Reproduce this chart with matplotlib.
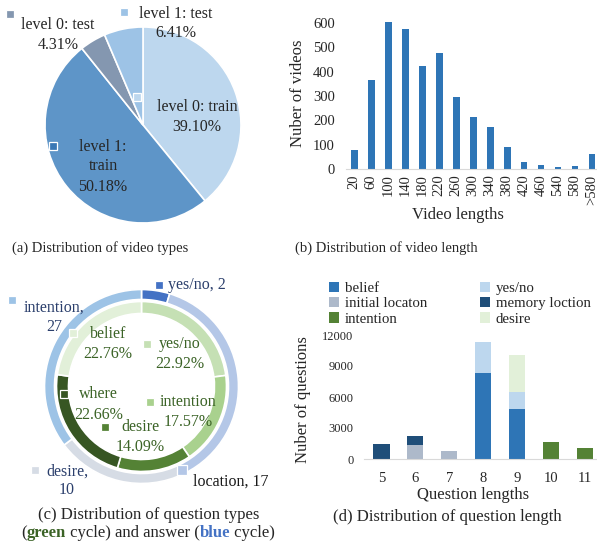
import matplotlib
matplotlib.use('Agg')
import matplotlib.pyplot as plt
import numpy as np

plt.rcParams['font.family'] = ['Liberation Serif', 'DejaVu Serif']

W, H = 597, 544

# (a) video types
type_labels = ['level 0: train\n39.10%', 'level 1:\ntrain\n50.18%', 'level 0: test\n4.31%', 'level 1: test\n6.41%']
type_share = [39.10, 50.18, 4.31, 6.41]

# (b) video lengths
length_bins = ['20', '60', '100', '140', '180', '220', '260', '300', '340', '380',
               '420', '460', '540', '580', '>580']
video_counts = [80, 365, 605, 575, 425, 478, 295, 212, 172, 92, 30, 18, 10, 13, 60]

# (c) question types (inner ring) and answers (outer ring)
question_types = ['yes/no', 'intention', 'desire', 'where', 'belief']
question_share = [22.92, 17.57, 14.09, 22.66, 22.76]
answer_types = ['yes/no', 'location', 'desire', 'intention']
answer_counts = [2, 17, 10, 27]
answer_share = [4.7, 38.0, 22.0, 35.3]   # ring sizes as drawn in the figure

# (d) question lengths, stacked by type
q_lengths = ['5', '6', '7', '8', '9', '10', '11']
belief = [0, 0, 0, 8350, 4870, 0, 0]
yes_no = [0, 0, 0, 3000, 1620, 0, 0]
initial_loc = [0, 1350, 780, 0, 0, 0, 0]
memory_loc = [1450, 880, 0, 0, 0, 0, 0]
intention = [0, 0, 0, 0, 0, 1680, 1100]
desire = [0, 0, 0, 0, 3580, 0, 0]

TXT = '#262626'
GREEN_TXT = '#3B6326'
NAVY_TXT = '#2B3F6C'


def px_box(l, t, r, b):
    # pixel box (top-left origin) -> figure fraction rect
    return [l / W, 1 - b / H, (r - l) / W, (b - t) / H]


fig = plt.figure(figsize=(W / 100, H / 100), dpi=100)
fig.patch.set_facecolor('white')

# ---------------- (a) pie ----------------
ax_a = fig.add_axes(px_box(45, 27, 241, 223))
type_colors = ['#BDD7EE', '#5E95C8', '#8497B0', '#9DC3E6']
ax_a.pie(type_share, colors=type_colors, startangle=90, counterclock=False,
         wedgeprops=dict(edgecolor='white', linewidth=1.2))
ax_a.set_xlim(-1, 1)
ax_a.set_ylim(-1, 1)

# ---------------- (b) bars ----------------
ax_b = fig.add_axes(px_box(345.8, 11, 600.5, 169))
xb = np.arange(len(video_counts))
ax_b.bar(xb, video_counts, width=0.4, color='#2E75B6')
ax_b.set_xlim(-0.5, len(xb) - 0.5)
ax_b.set_ylim(0, 650)
ax_b.set_yticks(range(0, 700, 100))
ax_b.set_xticks(xb, length_bins, rotation=90)
ax_b.tick_params(axis='both', length=0, labelsize=10.5, colors=TXT)
ax_b.tick_params(axis='x', pad=4)
ax_b.tick_params(axis='y', pad=8)
for s in ['top', 'right', 'left']:
    ax_b.spines[s].set_visible(False)
ax_b.spines['bottom'].set_color('#D9D9D9')
ax_b.set_ylabel('Nuber of videos', fontsize=12, color=TXT)
ax_b.yaxis.label.set_va('center')
ax_b.yaxis.set_label_coords(298 / W, 1 - 93 / H, transform=fig.transFigure)
ax_b.set_xlabel('Video lengths', fontsize=12, color=TXT)
ax_b.xaxis.label.set_va('center')
ax_b.xaxis.set_label_coords(458 / W, 1 - 215 / H, transform=fig.transFigure)

# ---------------- (c) donut ----------------
ax_c = fig.add_axes(px_box(44.5, 289.5, 238.5, 483.5))
R = 97.0
outer_colors = ['#4472C4', '#B4C7E7', '#D6DCE5', '#9DC3E6']
inner_colors = ['#C5E0B4', '#A9D18E', '#548235', '#375623', '#E2F0D9']
ax_c.pie(answer_share, colors=outer_colors, startangle=90, counterclock=False, radius=1,
         wedgeprops=dict(width=10 / R, edgecolor='white', linewidth=1.2))
ax_c.pie(question_share, colors=inner_colors, startangle=90, counterclock=False, radius=85 / R,
         wedgeprops=dict(width=12 / R, edgecolor='white', linewidth=1.2))
ax_c.set_xlim(-1, 1)
ax_c.set_ylim(-1, 1)

# ---------------- (d) stacked bars ----------------
ax_d = fig.add_axes(px_box(364.4, 335, 602, 459))
xd = np.arange(len(q_lengths))
series = [('belief', belief, '#2E75B6'),
          ('yes/no', yes_no, '#BDD7EE'),
          ('initial locaton', initial_loc, '#ADB9CA'),
          ('memory loction', memory_loc, '#1F4E79'),
          ('intention', intention, '#548235'),
          ('desire', desire, '#E2F0D9')]
bottom = np.zeros(len(q_lengths))
handles = {}
for name, vals, col in series:
    bc = ax_d.bar(xd, vals, width=0.48, bottom=bottom, color=col, label=name)
    handles[name] = bc
    bottom += np.array(vals)
ax_d.set_xlim(-0.5, len(xd) - 0.5)
ax_d.set_ylim(0, 12000)
ax_d.set_yticks(range(0, 12001, 3000))
ax_d.set_xticks(xd, q_lengths)
ax_d.tick_params(axis='both', length=0, colors=TXT)
ax_d.tick_params(axis='x', labelsize=10.5, pad=9)
ax_d.tick_params(axis='y', labelsize=9, pad=8)
for s in ['top', 'right', 'left']:
    ax_d.spines[s].set_visible(False)
ax_d.spines['bottom'].set_color('#D9D9D9')
ax_d.set_ylabel('Nuber of questions', fontsize=12, color=TXT)
ax_d.yaxis.label.set_va('center')
ax_d.yaxis.set_label_coords(303 / W, 1 - 400 / H, transform=fig.transFigure)
ax_d.set_xlabel('Question lengths', fontsize=12, color=TXT)
ax_d.xaxis.label.set_va('center')
ax_d.xaxis.set_label_coords(473 / W, 1 - 495 / H, transform=fig.transFigure)
order = ['belief', 'initial locaton', 'intention', 'yes/no', 'memory loction', 'desire']
leg = ax_d.legend([handles[k] for k in order], order, ncol=2, loc='upper left',
                  bbox_to_anchor=(329 / W, 1 - 282 / H), bbox_transform=fig.transFigure,
                  frameon=False, fontsize=10.7, handlelength=0.67, handleheight=0.67,
                  handletextpad=0.4, columnspacing=3.55, labelspacing=0.13,
                  borderaxespad=0, borderpad=0)
for t in leg.get_texts():
    t.set_color(TXT)

# ---------------- overlay for labels & captions (pixel coords) ----------------
ov = fig.add_axes([0, 0, 1, 1])
ov.set_xlim(0, W)
ov.set_ylim(H, 0)
ov.axis('off')


def key(x, y, color, size=5.8):
    ov.plot([x], [y], marker='s', markersize=size, color=color,
            markeredgecolor='white', markeredgewidth=0.9, linestyle='none')


def lines(x, ys, strs, color, size, ha='center'):
    for y, s in zip(ys, strs):
        ov.text(x, y, s, ha=ha, va='center', fontsize=size, color=color)


# (a) labels
key(136.5, 96.5, '#BDD7EE')
lines(197, [107, 127], type_labels[0].split('\n'), TXT, 11.5)
key(53, 146, '#3A78B5')
lines(103, [147, 166, 187], type_labels[1].split('\n'), TXT, 11.5)
key(10, 14, '#8497B0')
lines(58, [25, 45], type_labels[2].split('\n'), TXT, 11.5)
key(124, 12, '#9DC3E6')
lines(176, [14, 33], type_labels[3].split('\n'), TXT, 11.5)

# (c) outer ring labels
key(158.5, 285, outer_colors[0])
ov.text(168, 285, f'{answer_types[0]}, {answer_counts[0]}', ha='left', va='center',
        fontsize=11.5, color=NAVY_TXT)
key(181.5, 470, outer_colors[1], size=6.5)
ov.text(193, 482, f'{answer_types[1]}, {answer_counts[1]}', ha='left', va='center',
        fontsize=11.5, color='#1A1A1A')
key(35, 470, outer_colors[2])
lines(67, [472, 490], [f'{answer_types[2]},', f'{answer_counts[2]}'], NAVY_TXT, 11.5)
key(11.5, 299.5, outer_colors[3])
lines(54, [308, 327], [f'{answer_types[3]},', f'{answer_counts[3]}'], NAVY_TXT, 11.5)

# (c) inner ring labels
inner_pos = {'yes/no': ((146.5, 344), 180, 344, 363.5),
             'intention': ((150, 402), 188.5, 402.5, 421.5),
             'desire': ((105, 427), 140, 427, 447),
             'where': ((63.5, 394), 98.5, 394, 415),
             'belief': ((73, 333), 108, 333.5, 353.5)}
for name, share, col in zip(question_types, question_share, inner_colors):
    (kx, ky), tx, y1, y2 = inner_pos[name]
    key(kx, ky, col, size=6.2)
    lines(tx, [y1, y2], [name, f'{share:.2f}%'], GREEN_TXT, 11.5)

# captions
ov.text(100, 248, '(a) Distribution of video types', ha='center', va='center',
        fontsize=10.5, color=TXT)
ov.text(386, 248, '(b) Distribution of video length', ha='center', va='center',
        fontsize=10.5, color=TXT)
ov.text(149, 515, '(c) Distribution of question types', ha='center', va='center',
        fontsize=12, color=TXT)
ov.text(447, 517, '(d) Distribution of question length', ha='center', va='center',
        fontsize=12, color=TXT)

# second caption line of (c) with coloured words
renderer = fig.canvas.get_renderer()
pieces = [('(', TXT, 'normal'), ('green', '#3B6326', 'bold'),
          (' cycle) and answer (', TXT, 'normal'), ('blue', '#4472C4', 'bold'),
          (' cycle)', TXT, 'normal')]


def text_width(s, weight):
    t = ov.text(0, 0, s, fontsize=12, fontweight=weight)
    w = t.get_window_extent(renderer).width
    t.remove()
    return w


widths = [text_width('|' + s + '|', w) - text_width('||', w) for s, c, w in pieces]
x = 148 - sum(widths) / 2
for (s, c, w), wd in zip(pieces, widths):
    ov.text(x, 533, s, ha='left', va='center', fontsize=12, color=c, fontweight=w)
    x += wd

fig.savefig('out.png', dpi=100, facecolor='white')
